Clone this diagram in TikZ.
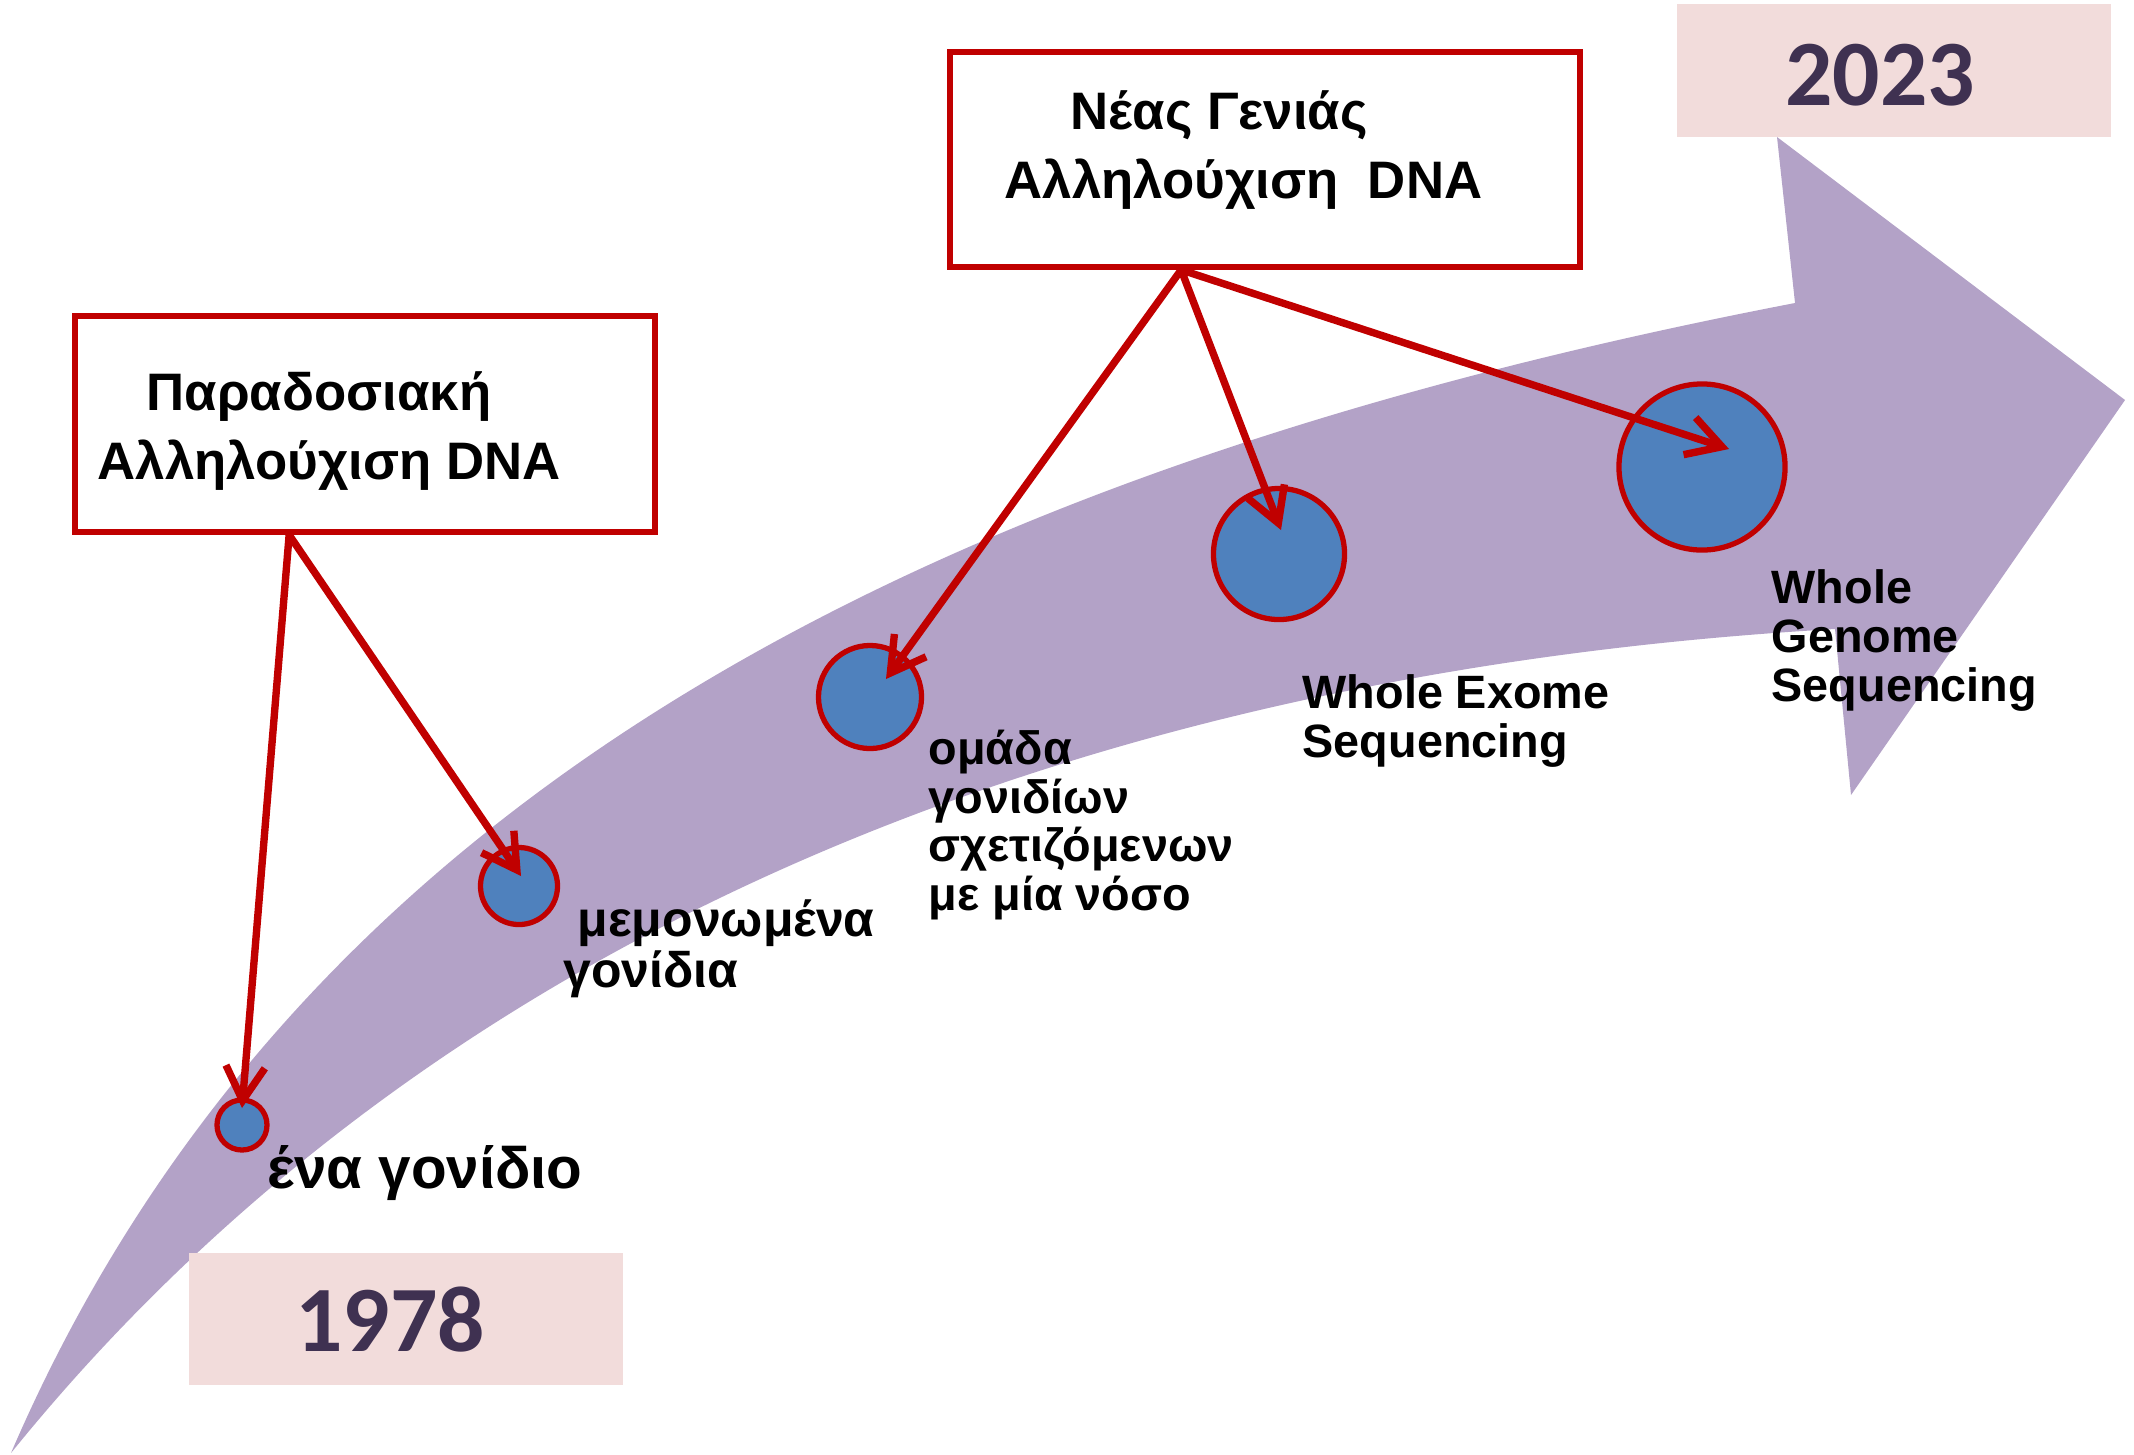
\documentclass[tikz,border=0pt]{standalone}
\usepackage{fontspec}
\setmainfont{Liberation Sans}
\newfontfamily\yearfont{Carlito}
\usetikzlibrary{arrows.meta,calc}
\definecolor{arrowpurple}{HTML}{B3A2C7}
\definecolor{boxred}{HTML}{C00000}
\definecolor{circblue}{HTML}{4F81BD}
\definecolor{yearpink}{HTML}{F2DCDB}
\definecolor{yeartext}{HTML}{3F3151}
\begin{document}
\begin{tikzpicture}[x=0.01cm,y=-0.01cm,
  redbox/.style={draw=boxred, line width=1.6pt, fill=white, inner sep=0pt},
  gene/.style={circle, draw=boxred, line width=1.5pt, fill=circblue, inner sep=0pt},
  yearbox/.style={fill=yearpink, inner sep=0pt},
  yeartxt/.style={font=\yearfont\bfseries\fontsize{26.6}{32}\selectfont, text=yeartext, inner sep=0pt},
  conn/.style={draw=boxred, line width=2.1pt, -{Straight Barb[length=3.4mm,width=3.9mm]}, line cap=round, line join=round},
  lbl/.style={font=\bfseries\fontsize{13.3}{13.9}\selectfont, align=left, inner sep=0pt, anchor=north west},
  boxtxt/.style={font=\bfseries\fontsize{15}{19.6}\selectfont, align=left, inner sep=0pt, anchor=north west}
]
\useasboundingbox (0,0) rectangle (2134,1454);
% big curved arrow
\fill[arrowpurple] (11,1453) .. controls (290,805) and (912,473) .. (1795,303)
  -- (1777,137) -- (2125,400) -- (1851,795) -- (1835,629)
  .. controls (1120,670) and (450,910) .. (11,1453) -- cycle;
% year boxes
\node[yearbox, minimum width=4.34cm, minimum height=1.33cm] (ybox2) at (1894,70.5) {};
\node[yeartxt] (y2023) at (1880,75) {2023};
\node[yearbox, minimum width=4.34cm, minimum height=1.32cm] (ybox1) at (406,1319) {};
\node[yeartxt] (y1978) at (390,1320) {1978};
% red boxes
\node[redbox, minimum width=5.8cm, minimum height=2.16cm] (lbox) at (365,424) {};
\node[redbox, minimum width=6.3cm, minimum height=2.15cm] (rbox) at (1265,159.5) {};
\node[boxtxt] (ltext) at (97,371) {\hspace*{0.49cm}Παραδοσιακή\\Αλληλούχιση DNA};
\node[boxtxt] (rtext) at (1004,90) {\hspace*{0.66cm}Νέας Γενιάς\\Αλληλούχιση\ \ DNA};
% circles
\node[gene, minimum size=0.5cm] (c1) at (242,1125) {};
\node[gene, minimum size=0.77cm] (c2) at (519,886) {};
\node[gene, minimum size=1.03cm] (c3) at (870,697) {};
\node[gene, minimum size=1.31cm] (c4) at (1279,554) {};
\node[gene, minimum size=1.66cm] (c5) at (1702,467) {};
% connectors
\coordinate (lsrc) at ([xshift=2.17cm]lbox.south west);
\coordinate (rsrc) at ([xshift=2.34cm]rbox.south west);
\draw[conn] (lsrc) -- ($(c1.center)+(0,-17)$);
\draw[conn] (lsrc) -- ($(c2.center)+(2,-10)$);
\draw[conn] (rsrc) -- ($(c3.center)+(16,-18)$);
\draw[conn] (rsrc) -- ($(c4.center)+(2,-24)$);
\draw[conn] (rsrc) -- ($(c5.center)+(27,-18)$);
% labels
\node[font=\bfseries\fontsize{16.6}{18}\selectfont, inner sep=0pt, anchor=base west] (t1) at (267,1188) {ένα γονίδιο};
\node[lbl, font=\bfseries\fontsize{14.2}{14.5}\selectfont] (t2) at (563,899) {\hspace*{0.14cm}μεμονωμένα\\γονίδια};
\node[lbl] (t3) at (928,729) {ομάδα\\γονιδίων\\σχετιζόμενων\\με μία νόσο};
\node[lbl] (t4) at (1302,674) {Whole Exome\\Sequencing};
\node[lbl] (t5) at (1771,569) {Whole\\Genome\\Sequencing};
\end{tikzpicture}
\end{document}
